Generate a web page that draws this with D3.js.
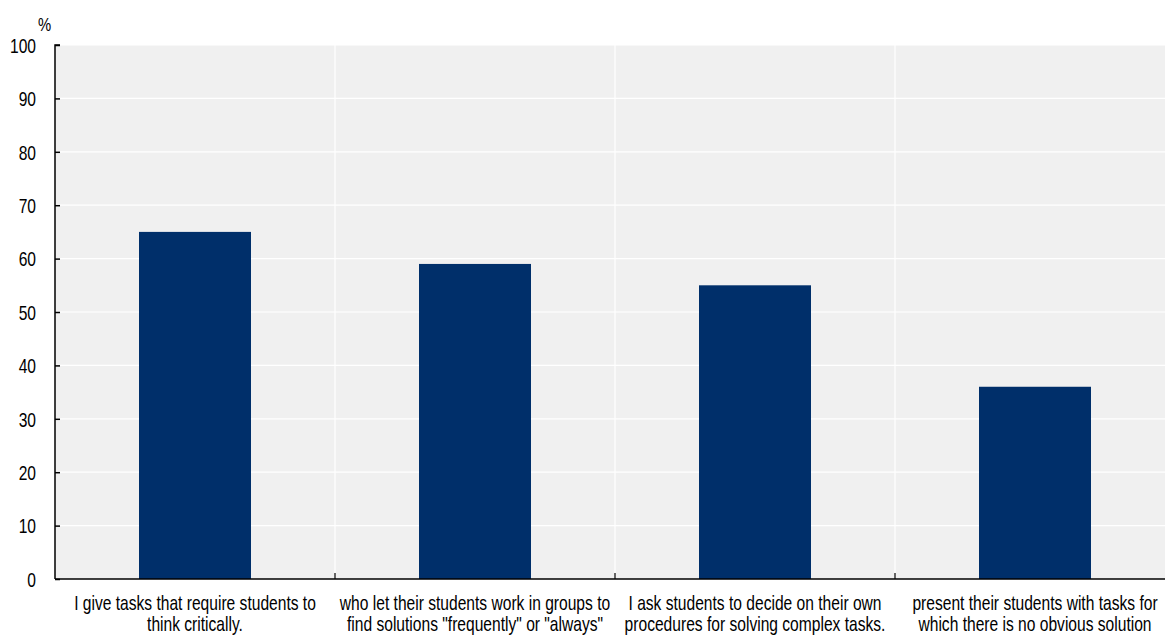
<!DOCTYPE html>
<html>
<head>
<meta charset="utf-8">
<script src="https://cdn.jsdelivr.net/npm/d3@7"></script>
<style>
  html, body { margin: 0; padding: 0; background: #ffffff; }
  svg { display: block; }
  text { font-family: "Liberation Sans", Arial, sans-serif; fill: #000; }
</style>
</head>
<body>
<svg id="chart" width="1165" height="639"></svg>
<script>
// Share of teachers reporting each practice, in %
const categories = [
  ["I give tasks that require students to", "think critically."],
  ["who let their students work in groups to", "find solutions \"frequently\" or \"always\""],
  ["I ask students to decide on their own", "procedures for solving complex tasks."],
  ["present their students with tasks for", "which there is no obvious solution"]
];
const values = [65, 59, 55, 36];
const yTicks = [0, 10, 20, 30, 40, 50, 60, 70, 80, 90, 100];

// condensed look: regular sans squeezed horizontally
const narrow = 0.78;

const svg = d3.select("#chart");
const plotLeft = 55, plotRight = 1175, plotTop = 45, plotBottom = 579;

const x = d3.scaleBand()
  .domain(d3.range(categories.length))
  .range([plotLeft, plotRight])
  .paddingInner(0.6)
  .paddingOuter(0.3);

const y = d3.scaleLinear().domain([0, 100]).range([plotBottom, plotTop]);

// plot background
svg.append("rect")
  .attr("x", plotLeft).attr("y", plotTop)
  .attr("width", plotRight - plotLeft).attr("height", plotBottom - plotTop)
  .attr("fill", "#f0f0f0");

// horizontal gridlines
svg.append("g").selectAll("line")
  .data(yTicks.filter(d => d > 0))
  .join("line")
  .attr("x1", plotLeft).attr("x2", plotRight)
  .attr("y1", d => y(d)).attr("y2", d => y(d))
  .attr("stroke", "#ffffff").attr("stroke-width", 1.2);

// vertical separators between categories
const step = x.step();
const bounds = d3.range(1, categories.length).map(i => plotLeft + i * step);
svg.append("g").selectAll("line")
  .data(bounds)
  .join("line")
  .attr("x1", d => d).attr("x2", d => d)
  .attr("y1", plotTop).attr("y2", plotBottom)
  .attr("stroke", "#ffffff").attr("stroke-width", 1.2);

// bars
svg.append("g").selectAll("rect")
  .data(values)
  .join("rect")
  .attr("x", (d, i) => x(i))
  .attr("width", x.bandwidth())
  .attr("y", d => y(d))
  .attr("height", d => y(0) - y(d))
  .attr("fill", "#002f6a");

// y axis
const yAxis = d3.axisLeft(y).tickValues(yTicks).tickSize(-5).tickPadding(0);
const gy = svg.append("g").attr("transform", `translate(${plotLeft},0)`).call(yAxis);
gy.select(".domain").attr("stroke", "#000").attr("stroke-width", 1.5).attr("d", `M5,${plotTop}H0V${plotBottom}`);
gy.selectAll(".tick line").attr("stroke", "#000").attr("stroke-width", 1.5);
gy.selectAll(".tick text")
  .attr("font-size", 20)
  .attr("font-family", "'Liberation Sans', Arial, sans-serif")
  .attr("x", -19 / narrow)
  .attr("dy", "0.36em")
  .attr("transform", `scale(${narrow},1)`);

// x axis line and ticks at category boundaries
svg.append("line")
  .attr("x1", plotLeft).attr("x2", plotRight)
  .attr("y1", plotBottom).attr("y2", plotBottom)
  .attr("stroke", "#000").attr("stroke-width", 1.5);
svg.append("g").selectAll("line")
  .data(bounds)
  .join("line")
  .attr("x1", d => d).attr("x2", d => d)
  .attr("y1", plotBottom).attr("y2", plotBottom - 6)
  .attr("stroke", "#000").attr("stroke-width", 1.2);

// category labels, two lines each
const lab = svg.append("g").selectAll("text")
  .data(categories)
  .join("text")
  .attr("text-anchor", "middle")
  .attr("font-size", 20)
  .attr("transform", (d, i) => `translate(${x(i) + x.bandwidth() / 2},0) scale(${narrow},1)`);
lab.selectAll("tspan")
  .data(d => d)
  .join("tspan")
  .attr("x", 0)
  .attr("y", (d, j) => 610 + j * 21)
  .text(d => d);

// unit label
svg.append("text")
  .attr("transform", `translate(38,31) scale(${narrow},1)`)
  .attr("font-size", 19)
  .text("%");
</script>
</body>
</html>
